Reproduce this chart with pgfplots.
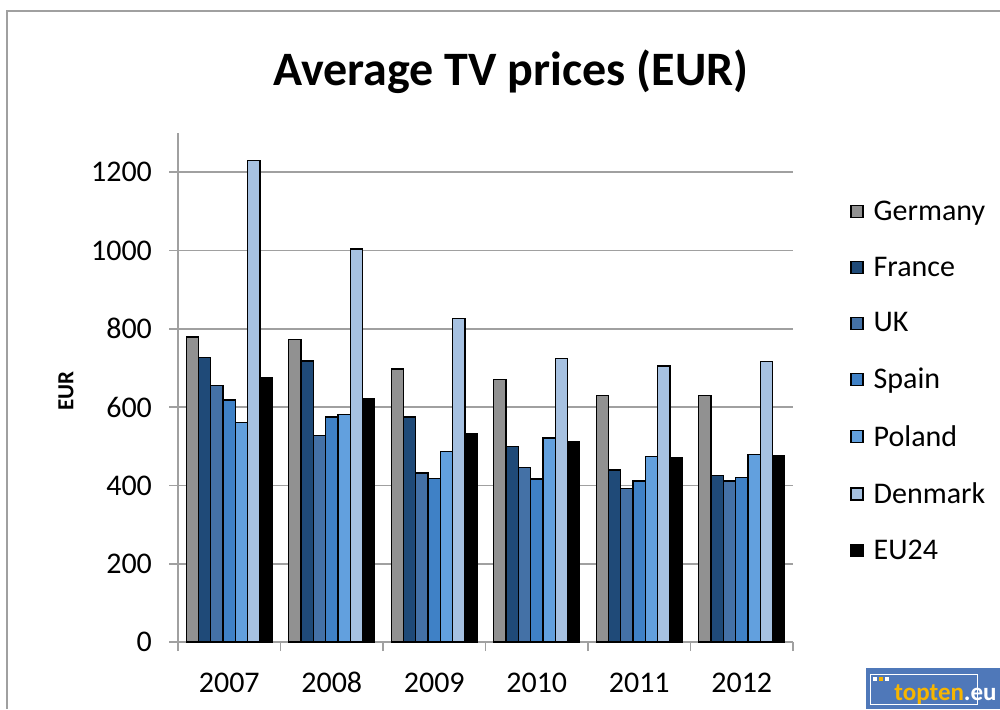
\documentclass[border=0pt]{standalone}
\usepackage{pgfplots}
\pgfplotsset{compat=1.18}
\usepackage{fontspec}
\setmainfont{Carlito}
\definecolor{cGer}{HTML}{919191}
\definecolor{cFra}{HTML}{1F4A78}
\definecolor{cUK}{HTML}{4471A6}
\definecolor{cSpa}{HTML}{3F81C6}
\definecolor{cPol}{HTML}{62A0DE}
\definecolor{cDen}{HTML}{A6C1E1}
\definecolor{axgray}{HTML}{A0A0A0}
\definecolor{logoblue}{HTML}{4F78B9}
\definecolor{logoyel}{HTML}{F7B500}
\pgfplotstableread{
x Germany France UK Spain Poland Denmark EU24
0 779 726 656 618 560 1229 676
1 773 718 527 575 581 1004 622
2 697 575 432 417 486 826 532
3 670 500 445 416 521 724 512
4 630 439 392 411 473 705 471
5 630 425 411 420 479 717 477
}\datatable
\begin{document}
\begin{tikzpicture}[x=0.5pt,y=0.5pt]
\path[use as bounding box] (0,0) rectangle (1000,709);
\draw[axgray, line width=0.8pt] (7,0) -- (7,698) -- (1000,698);
\node[font=\fontsize{24}{28}\selectfont\bfseries, anchor=base] at (511,624) {Average TV prices (EUR)};
\begin{axis}[
  at={(89pt,33.5pt)}, anchor=south west,
  scale only axis, width=307.5pt, height=254.5pt,
  ymin=0, ymax=1300, ytick={0,200,...,1200},
  xmin=-0.5, xmax=5.5, xtick={0,...,5},
  xticklabels={2007,2008,2009,2010,2011,2012},
  minor xtick={-0.5,0.5,...,5.5},
  ybar=0pt, bar width=6.15pt,
  axis x line*=bottom, axis y line*=left,
  axis line style={draw=axgray, line width=0.8pt, -},
  ymajorgrids, grid style={axgray, line width=0.8pt},
  tick style={axgray, line width=0.8pt},
  every major x tick/.append style={draw=none},
  tick align=outside, major tick length=4.5pt, minor tick length=4.5pt,
  ticklabel style={font=\fontsize{15}{17}\selectfont},
  xticklabel style={anchor=base, yshift=-20.5pt},
  yticklabel style={xshift=-5pt},
  /pgf/number format/assume math mode=true,
  /pgf/number format/1000 sep={},
  ylabel={EUR},
  ylabel style={font=\fontsize{11.5}{13}\selectfont\bfseries, at={(axis description cs:-0.1821,0.493)}, anchor=center},
  every axis plot/.append style={draw=black, line width=0.65pt},
  legend image code/.code={\draw[#1,/tikz/.cd] (0pt,-2.75pt) rectangle (6pt,3.25pt);},
  legend style={at={(axis description cs:1.0927,0.875)}, anchor=north west, draw=none, fill=none,
    font=\fontsize{15}{17}\selectfont, row sep=12.7pt, inner sep=0pt,
    /tikz/every odd column/.append style={column sep=3pt}},
  legend cell align=left,
]
\addplot[fill=cGer] table[x=x,y=Germany]{\datatable};
\addplot[fill=cFra] table[x=x,y=France]{\datatable};
\addplot[fill=cUK] table[x=x,y=UK]{\datatable};
\addplot[fill=cSpa] table[x=x,y=Spain]{\datatable};
\addplot[fill=cPol] table[x=x,y=Poland]{\datatable};
\addplot[fill=cDen] table[x=x,y=Denmark]{\datatable};
\addplot[fill=black] table[x=x,y=EU24]{\datatable};
\legend{Germany,France,UK,Spain,Poland,Denmark,EU24}
\end{axis}
\fill[logoblue] (866,0) rectangle (1000,41);
\draw[white, line width=0.5pt] (870.5,5) rectangle (977.5,35);
\fill[white] (873,28) rectangle (877,32);
\fill[logoyel] (879,28) rectangle (883,32);
\fill[white] (885,28) rectangle (889,32);
\node[anchor=base west, inner sep=0pt, font=\fontsize{12.5}{15}\selectfont\bfseries] at (894,9) {\textcolor{logoyel}{topten}\textcolor{white}{.eu}};
\end{tikzpicture}
\end{document}
